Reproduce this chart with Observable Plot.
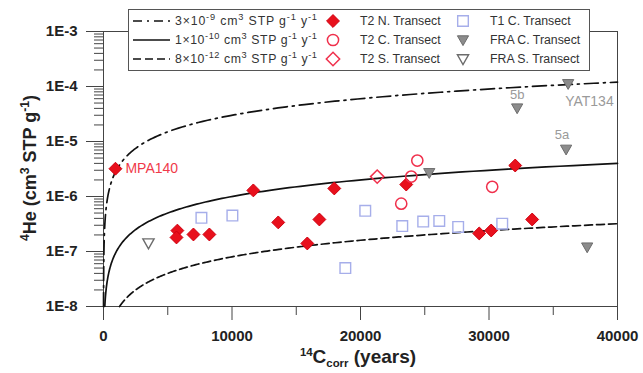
<!DOCTYPE html>
<html><head><meta charset="utf-8">
<script src="https://cdn.jsdelivr.net/npm/d3@7"></script>
<script src="https://cdn.jsdelivr.net/npm/@observablehq/plot@0.6"></script>
<style>
body{margin:0;background:#fff;font-family:"Liberation Sans",Arial,sans-serif;}
#wrap{position:relative;width:643px;height:373px;}
#legend{position:absolute;left:128px;top:9px;}
</style></head>
<body><div id="wrap"></div>
<script>
// ---- data ----
const rates = [3e-9, 1e-10, 8e-12];
const rateLabels = ["3×10^{-9} cm^{3} STP g^{-1} y^{-1}", "1×10^{-10} cm^{3} STP g^{-1} y^{-1}", "8×10^{-12} cm^{3} STP g^{-1} y^{-1}"];
const xMajor = [0, 10000, 20000, 30000, 40000];
const xMinor = [5000, 15000, 25000, 35000];
const yMajor = [1e-8, 1e-7, 1e-6, 1e-5, 1e-4, 1e-3];

const t2nAge = [930, 5750, 5680, 7000, 8240, 11660, 13600, 15860, 16800, 17960, 23560, 32040, 29240, 30170, 33360];
const t2nHe  = [3.2e-6, 2.4e-7, 1.8e-7, 2.04e-7, 2.04e-7, 1.29e-6, 3.38e-7, 1.4e-7, 3.82e-7, 1.4e-6, 1.65e-6, 3.66e-6, 2.13e-7, 2.41e-7, 3.82e-7];
const t2cAge = [24420, 23950, 23170, 30250];
const t2cHe  = [4.5e-6, 2.3e-6, 7.4e-7, 1.5e-6];
const t2sAge = [21300];
const t2sHe  = [2.3e-6];
const t1cAge = [7620, 10030, 18820, 20370, 23250, 24880, 26130, 27600, 31030];
const t1cHe  = [4.1e-7, 4.5e-7, 5.0e-8, 5.5e-7, 2.9e-7, 3.5e-7, 3.6e-7, 2.8e-7, 3.2e-7];
const fraCAge = [36160, 32190, 36000, 25350, 37640];
const fraCHe  = [1.12e-4, 4.05e-5, 7.2e-6, 2.7e-6, 1.2e-7];
const fraSAge = [3500];
const fraSHe  = [1.42e-7];

const annoLabels = ["MPA140", "5b", "5a", "YAT134"];
const annoAge = [930, 32190, 36000, 36160];
const annoHe  = [3.2e-6, 4.05e-5, 7.2e-6, 1.12e-4];

// ---- symbols / styles ----
const downTri = {draw(ctx, size){const r=Math.sqrt(size/Math.PI);ctx.moveTo(-r,-0.75*r);ctx.lineTo(r,-0.75*r);ctx.lineTo(0,r);ctx.closePath();}};
const lineDash = ["14,5,2,5", null, "8,4"];
const series = [
  {name:"T2 N. Transect", age:t2nAge, he:t2nHe, symbol:d3.symbolDiamond2, fill:"#e8101c", stroke:"#d00010", r:5.8, sw:1},
  {name:"T2 C. Transect", age:t2cAge, he:t2cHe, symbol:d3.symbolCircle, fill:"none", stroke:"#f0304c", r:5.6, sw:1.5},
  {name:"T2 S. Transect", age:t2sAge, he:t2sHe, symbol:d3.symbolDiamond2, fill:"none", stroke:"#f0304c", r:6, sw:1.5},
  {name:"T1 C. Transect", age:t1cAge, he:t1cHe, symbol:d3.symbolSquare, fill:"none", stroke:"#a6aeea", r:6, sw:1.4},
  {name:"FRA C. Transect", age:fraCAge, he:fraCHe, symbol:downTri, fill:"#8c8c8c", stroke:"#6c6c6c", r:5.6, sw:1},
  {name:"FRA S. Transect", age:fraSAge, he:fraSHe, symbol:downTri, fill:"none", stroke:"#6c6c6c", r:5.6, sw:1.4}
];

// model curves He = rate * t
const curves = rates.map((k) => {
  const t0 = 1e-8 / k, n = 200;
  return d3.range(n + 1).map(i => t0 * Math.pow(40000 / t0, i / n)).map(t => ({t, he: k * t}));
});

const font = "Liberation Sans, Arial, sans-serif";
const marks = [
  Plot.frame({stroke:"#444", strokeWidth:1}),
  Plot.axisX(xMajor, {tickSize:14, tickPadding:10, fontSize:15, fontWeight:"bold", tickFormat:d=>String(d), label:null, stroke:"#444"}),
  Plot.axisX(xMinor, {tickSize:9, tickFormat:()=>"", label:null, stroke:"#444"}),
  Plot.axisY(yMajor, {tickSize:17, tickPadding:9, fontSize:15, fontWeight:"bold", tickFormat:d=>"1E" + Math.round(Math.log10(d)), label:null, stroke:"#444"}),
  Plot.axisY(d3.range(-8,-3).flatMap(e=>d3.range(2,10).map(m=>m*Math.pow(10,e))), {tickSize:9, tickFormat:()=>"", label:null, stroke:"#444"}),
  ...curves.map((c, j) => Plot.line(c, {x:"t", y:"he", stroke:"#111", strokeWidth:1.7, strokeDasharray:lineDash[j]})),
  ...series.map(s => Plot.dot(s.age.map((a,i)=>({age:a, he:s.he[i]})), {x:"age", y:"he", symbol:s.symbol, r:s.r, fill:s.fill, stroke:s.stroke, strokeWidth:s.sw})),
  Plot.text([0], {x:i=>annoAge[i], y:i=>annoHe[i], text:i=>annoLabels[i], dx:10, textAnchor:"start", fill:"#f03a4a", fontSize:14}),
  Plot.text([1], {x:i=>annoAge[i], y:i=>annoHe[i], text:i=>annoLabels[i], dy:-13, fill:"#9a9a9a", fontSize:13}),
  Plot.text([2], {x:i=>annoAge[i], y:i=>annoHe[i], text:i=>annoLabels[i], dx:-4, dy:-15, fill:"#9a9a9a", fontSize:13}),
  Plot.text([3], {x:i=>annoAge[i], y:i=>annoHe[i], text:i=>annoLabels[i], dx:-3, dy:18, textAnchor:"start", fill:"#9a9a9a", fontSize:14})
];

const chart = Plot.plot({
  width:643, height:373,
  marginLeft:103, marginRight:26, marginTop:31, marginBottom:67,
  x:{domain:[0,40000]},
  y:{type:"log", domain:[1e-8,1e-3]},
  style:{fontFamily:font, background:"white", color:"#222"},
  marks
});

// rich text helper (^{sup}, _{sub})
function rich(sel, str, fs, ratio = 0.68){
  const parts = str.split(/(\^\{[^}]*\}|_\{[^}]*\})/).filter(p=>p!=="");
  let cur = 0;
  for (const p of parts){
    let off = 0, txt = p, size = fs;
    if (p.startsWith("^{")) {off = -fs*0.38; txt = p.slice(2,-1); size = fs*ratio;}
    else if (p.startsWith("_{")) {off = fs*0.22; txt = p.slice(2,-1); size = fs*ratio;}
    sel.append("tspan").attr("dy", off - cur).attr("font-size", size).text(txt);
    cur = off;
  }
}

const svg = d3.select(chart);
const yt = svg.append("text").attr("transform","translate(36,168) rotate(-90)").attr("text-anchor","middle")
  .attr("font-family",font).attr("font-weight","bold").attr("fill","#222");
rich(yt, "^{4}He (cm^{3} STP g^{-1})", 18);
const xt = svg.append("text").attr("x",358).attr("y",363).attr("text-anchor","middle")
  .attr("font-family",font).attr("font-weight","bold").attr("fill","#222");
rich(xt, "^{14}C_{corr} (years)", 19, 0.6);

const wrap = document.getElementById("wrap");
wrap.appendChild(chart);

// legend
const lg = d3.create("svg").attr("id","legend").attr("width",462).attr("height",63);
lg.append("rect").attr("x",0.5).attr("y",0.5).attr("width",461).attr("height",61).attr("fill","white").attr("stroke","#555");
const rowY = [12, 31, 50];
rates.forEach((k,j)=>{
  lg.append("line").attr("x1",5).attr("x2",42).attr("y1",rowY[j]).attr("y2",rowY[j]).attr("stroke","#111").attr("stroke-width",1.7).attr("stroke-dasharray", j===0 ? "9,5,2,5" : lineDash[j]);
  const t = lg.append("text").attr("x",47).attr("y",rowY[j]+4).attr("font-family",font).attr("font-size",12.3).attr("fill","#333")
    .attr("textLength", 142).attr("lengthAdjust","spacing");
  rich(t, rateLabels[j], 12.3, 0.75);
});
series.forEach((s,i)=>{
  const col = Math.floor(i/3), row = i%3;
  const mx = col===0 ? 205 : 335, tx = col===0 ? 232 : 362;
  lg.append("path").attr("d", d3.symbol(s.symbol, Math.PI*s.r*s.r)()).attr("transform",`translate(${mx},${rowY[row]})`)
    .attr("fill", s.fill).attr("stroke", s.stroke).attr("stroke-width", s.sw);
  lg.append("text").attr("x",tx).attr("y",rowY[row]+4).attr("font-family",font).attr("font-size",12.3).attr("fill","#333").text(s.name);
});
wrap.appendChild(lg.node());
</script>
</body></html>
